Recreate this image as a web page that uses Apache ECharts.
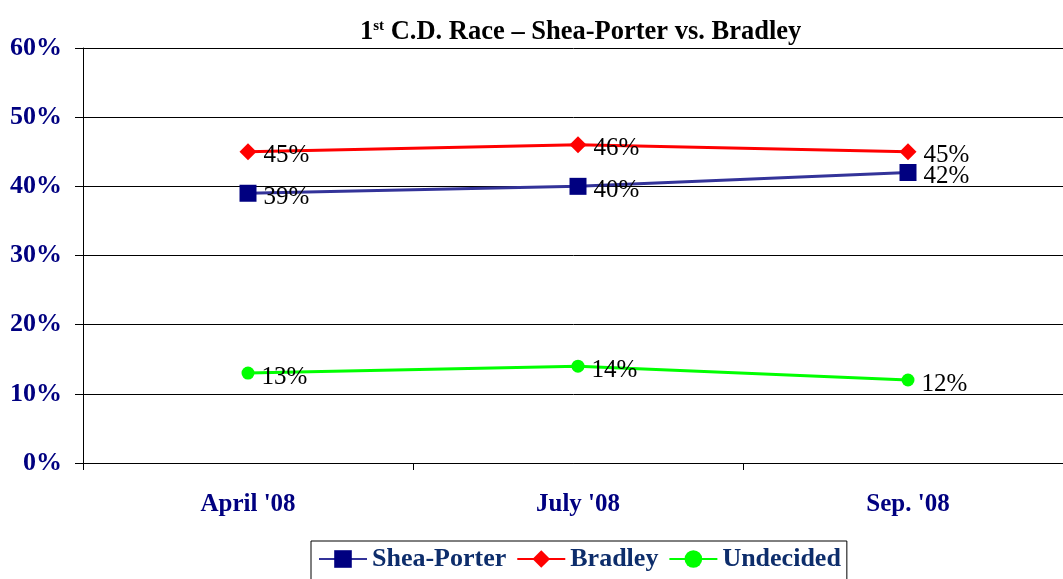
<!DOCTYPE html>
<html>
<head>
<meta charset="utf-8">
<script src="https://cdn.jsdelivr.net/npm/echarts@6/dist/echarts.min.js"></script>
<style>
  html, body { margin: 0; padding: 0; background: #fff; }
  #chart { width: 1063px; height: 579px; }
</style>
</head>
<body>
<div id="chart"></div>
<script>
// data
var months = ["April '08", "July '08", "Sep. '08"];
var sheaPorter = [39, 40, 42];
var bradley = [45, 46, 45];
var undecided = [13, 14, 12];
var yTicks = [0, 10, 20, 30, 40, 50, 60];

var serif = '"Liberation Serif", "Times New Roman", serif';

function lineSeries(name, data, lineColor, symbol, symbolColor, size) {
  return {
    name: name,
    type: 'line',
    data: data,
    symbol: symbol,
    symbolSize: size,
    showAllSymbol: true,
    lineStyle: { color: lineColor, width: 3 },
    itemStyle: { color: symbolColor },
    label: {
      show: true,
      position: 'right',
      distance: 7,
      offset: [0, 4],
      formatter: '{c}%',
      fontFamily: serif,
      fontSize: 25,
      color: '#000'
    },
    animation: false
  };
}

var option = {
  backgroundColor: '#fff',
  title: {
    text: '1{sup|st} C.D. Race – Shea-Porter vs. Bradley',
    left: 355,
    top: 14,
    textStyle: {
      fontFamily: serif,
      fontWeight: 'bold',
      fontSize: 26.5,
      color: '#000',
      rich: {
        sup: { fontFamily: serif, fontWeight: 'bold', fontSize: 15, verticalAlign: 'top', padding: [0, 0, 12, 0] }
      }
    }
  },
  legend: {
    data: ['Shea-Porter', 'Bradley', 'Undecided'],
    left: 311,
    top: 541,
    borderColor: '#000',
    borderWidth: 1,
    padding: [5, 6, 12, 7],
    itemGap: 10,
    itemWidth: 48,
    itemHeight: 22,
    textStyle: { fontFamily: serif, fontWeight: 'bold', fontSize: 26, color: '#0d2d6b' }
  },
  grid: { left: 83, width: 990, top: 48, bottom: 116, containLabel: false, outerBoundsMode: 'none' },
  xAxis: {
    type: 'category',
    data: months,
    boundaryGap: true,
    axisLine: { lineStyle: { color: '#000', width: 1 } },
    axisTick: { show: true, length: 7, lineStyle: { color: '#000' } },
    axisLabel: { margin: 29, fontFamily: serif, fontWeight: 'bold', fontSize: 25, color: '#000080' },
    splitLine: { show: false }
  },
  yAxis: {
    type: 'value',
    min: yTicks[0],
    max: yTicks[yTicks.length - 1],
    interval: 10,
    axisLine: { show: true, lineStyle: { color: '#000', width: 1 } },
    axisTick: { show: true, length: 8, lineStyle: { color: '#000' } },
    axisLabel: { margin: 21, formatter: '{value}%', fontFamily: serif, fontWeight: 'bold', fontSize: 26, color: '#000080' },
    splitLine: { show: true, lineStyle: { color: '#000', width: 1 } }
  },
  series: [
    lineSeries('Shea-Porter', sheaPorter, '#333399', 'rect', '#000080', 17),
    lineSeries('Bradley', bradley, '#ff0000', 'diamond', '#ff0000', [17, 17]),
    lineSeries('Undecided', undecided, '#00ff00', 'circle', '#00ff00', 13)
  ]
};

var myChart = echarts.init(document.getElementById('chart'));
myChart.setOption(option);
</script>
</body>
</html>
